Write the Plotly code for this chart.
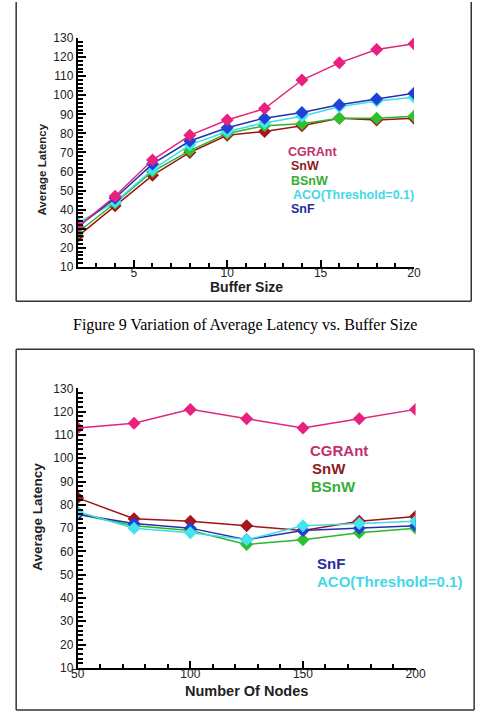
import plotly.graph_objects as go

# ---------------- data ----------------
buffer_size = [2, 4, 6, 8, 10, 12, 14, 16, 18, 20]
buf_cgrant = [31, 47, 66, 79, 87, 93, 108, 117, 124, 127]
buf_snw = [26, 42, 58, 70, 79, 81, 84, 88, 87, 88]
buf_bsnw = [28, 43.5, 60, 71, 80, 84, 85, 88, 88, 89]
buf_aco = [33, 44, 61, 74, 81, 85.5, 89, 94, 97, 99]
buf_snf = [31, 46, 64, 76, 83, 88, 91, 95, 98, 101]

nodes = [50, 75, 100, 125, 150, 175, 200]
nod_cgrant = [113, 115, 121, 117, 113, 117, 121]
nod_snw = [83, 74, 73, 71, 69, 73, 75]
nod_bsnw = [76, 71, 69, 63, 65, 68, 70]
nod_aco = [77, 70, 68, 65, 71, 72, 73]
nod_snf = [76, 72, 70, 65, 69, 70, 71]

series_names = ["SnW", "BSnW", "ACO(Threshold=0.1)", "SnF", "CGRAnt"]
line_colors = ["#9E1414", "#2BB52B", "#3EDCE6", "#2330B0", "#E0267C"]
marker_colors = ["#A8151A", "#2FC02F", "#44E4EE", "#2040D8", "#E8207E"]
text_colors = {"CGRAnt": "#C2306E", "SnW": "#8E1C1C", "BSnW": "#36AE36",
               "ACO(Threshold=0.1)": "#44D8E6", "SnF": "#2A2AA2"}

W, H = 488, 718
def px(x):
    return x / W
def py(y):
    return 1 - y / H

fig = go.Figure()

top_sets = [buf_snw, buf_bsnw, buf_aco, buf_snf, buf_cgrant]
bot_sets = [nod_snw, nod_bsnw, nod_snf, nod_aco, nod_cgrant]
bot_names = ["SnW", "BSnW", "SnF", "ACO(Threshold=0.1)", "CGRAnt"]

for name, vals, lc, mc in zip(series_names, top_sets, line_colors, marker_colors):
    fig.add_trace(go.Scatter(x=buffer_size, y=vals, name=name, mode="lines+markers",
                             line=dict(color=lc, width=1.5),
                             marker=dict(symbol="diamond", size=10, color=mc),
                             xaxis="x", yaxis="y", showlegend=False))

color_by_name = dict(zip(series_names, zip(line_colors, marker_colors)))
for name, vals in zip(bot_names, bot_sets):
    lc, mc = color_by_name[name]
    fig.add_trace(go.Scatter(x=nodes, y=vals, name=name, mode="lines+markers",
                             line=dict(color=lc, width=1.5),
                             marker=dict(symbol="diamond", size=10, color=mc),
                             xaxis="x2", yaxis="y2", showlegend=False))

tickfont = dict(family="Liberation Sans, Arial", size=12, color="#222")
axis_common = dict(showline=True, linecolor="black", linewidth=2, ticks="inside",
                   tickcolor="black", tickwidth=2, showgrid=False, zeroline=False,
                   tickfont=tickfont, mirror=False)

fig.update_layout(
    width=W, height=H, margin=dict(l=0, r=0, t=0, b=0),
    paper_bgcolor="white", plot_bgcolor="white",
    xaxis=dict(domain=[px(73.3), px(421.7)], anchor="y", range=[2, 20],
               tick0=0, dtick=5, ticklen=7, ticklabelstandoff=-6,
               minor=dict(dtick=1, tick0=0, ticklen=4, ticks="inside", tickcolor="black", tickwidth=1.5),
               **axis_common),
    yaxis=dict(domain=[py(265), py(31.7)], anchor="x", range=[10, 130],
               tick0=0, dtick=10, ticklen=8,
               minor=dict(dtick=2, tick0=0, ticklen=5, ticks="inside", tickcolor="black", tickwidth=1.5),
               **axis_common),
    xaxis2=dict(domain=[px(73.3), px(423.3)], anchor="y2", range=[50, 200],
                tick0=0, dtick=50, ticklen=7, ticklabelstandoff=-6,
                minor=dict(dtick=10, tick0=0, ticklen=4, ticks="inside", tickcolor="black", tickwidth=1.5),
                **axis_common),
    yaxis2=dict(domain=[py(674), py(389)], anchor="x2", range=[10, 130],
                tick0=0, dtick=10, ticklen=8,
                minor=dict(dtick=2, tick0=0, ticklen=5, ticks="inside", tickcolor="black", tickwidth=1.5),
                **axis_common),
)

annotations = []
def add_text(text, x, y, size, color="#222", bold=True, angle=0, family="Liberation Sans, Arial",
             xanchor="center"):
    t = f"<b>{text}</b>" if bold else text
    annotations.append(dict(text=t, x=px(x), y=py(y), xref="paper", yref="paper",
                            showarrow=False, xanchor=xanchor, yanchor="middle", borderpad=0,
                            textangle=angle, font=dict(family=family, size=size, color=color)))

# axis titles
add_text("Average Latency", 36, 166, 11.5, angle=-90)
add_text("Buffer Size", 248, 286, 14)
add_text("Average Latency", 32, 520, 13.5, angle=-90)
add_text("Number Of Nodes", 248, 698, 14.5)

# in-plot legend labels (top)
top_labels = ["CGRAnt", "SnW", "BSnW", "ACO(Threshold=0.1)", "SnF"]
top_y = [148, 162.5, 177, 191.5, 206]
top_x = [290, 293, 293, 295, 293]
for lab, xx, yy in zip(top_labels, top_x, top_y):
    add_text(lab, xx, yy, 12.5, color=text_colors[lab], xanchor="left")

# in-plot legend labels (bottom)
bot_labels = ["CGRAnt", "SnW", "BSnW", "SnF", "ACO(Threshold=0.1)"]
bot_y = [452, 470.5, 489, 567.5, 586]
bot_x = [313, 315, 314, 320, 320]
for lab, xx, yy in zip(bot_labels, bot_x, bot_y):
    add_text(lab, xx, yy, 15, color=text_colors[lab], xanchor="left")

# caption
add_text("Figure 9 Variation of Average Latency vs. Buffer Size", 247, 324, 16, color="black",
         bold=False, family="Liberation Serif, Times New Roman")

fig.update_layout(annotations=annotations)

# frames
shapes = []
def line(x0, y0, x1, y1):
    shapes.append(dict(type="line", xref="paper", yref="paper", x0=px(x0), y0=py(y0),
                       x1=px(x1), y1=py(y1), line=dict(color="#333", width=1.5)))
line(9.5, -5, 9.5, 300)
line(481, -5, 481, 300)
line(9.5, 300, 481, 300)
line(9.5, 349, 484, 349)
line(9.5, 349, 9.5, 717)
line(484, 349, 484, 717)
line(9.5, 717, 484, 717)
fig.update_layout(shapes=shapes)

fig.write_html("out.html")
